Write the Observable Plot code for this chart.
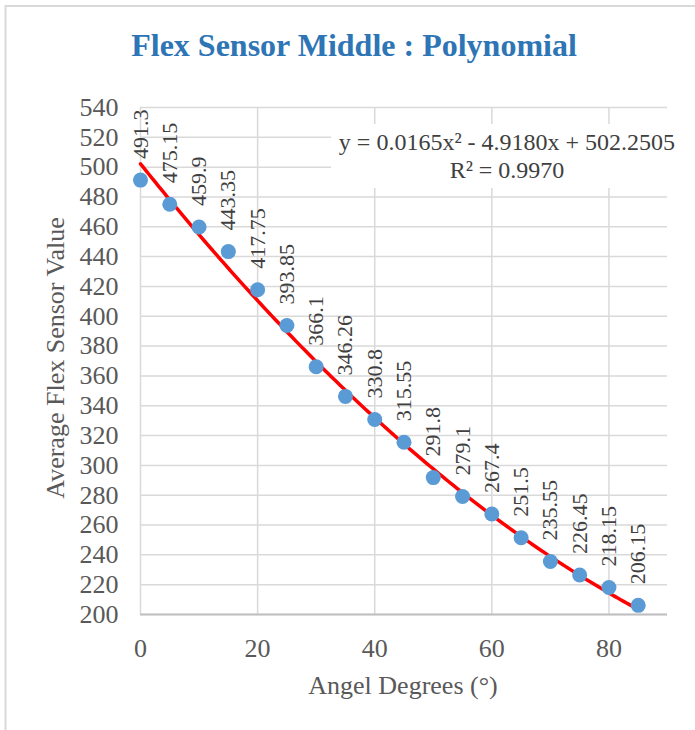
<!DOCTYPE html>
<html>
<head>
<meta charset="utf-8">
<script src="https://cdn.jsdelivr.net/npm/d3@7"></script>
<script src="https://cdn.jsdelivr.net/npm/@observablehq/plot@0.6"></script>
<style>
  html, body { margin: 0; padding: 0; background: white; }
</style>
</head>
<body>
<div id="chart"></div>
<script>
// ---- data ----
const angles = [0, 5, 10, 15, 20, 25, 30, 35, 40, 45, 50, 55, 60, 65, 70, 75, 80, 85];
const values = [491.3, 475.15, 459.9, 443.35, 417.75, 393.85, 366.1, 346.26, 330.8, 315.55, 291.8, 279.1, 267.4, 251.5, 235.55, 226.45, 218.15, 206.15];
const yTicks = [200, 220, 240, 260, 280, 300, 320, 340, 360, 380, 400, 420, 440, 460, 480, 500, 520, 540];
const xTicks = [0, 20, 40, 60, 80];
// polynomial trendline coefficients (c0, c1, c2) as printed on the chart
const trendCoeffs = [502.2505, -4.9180, 0.0165];
const equationText = "y = 0.0165x² - 4.9180x + 502.2505";
const r2Text = "R² = 0.9970";
const titleText = "Flex Sensor Middle : Polynomial";
const xLabel = "Angel Degrees (°)";
const yLabel = "Average Flex Sensor Value";

const points = angles.map((a, i) => ({x: a, y: values[i]}));
const trend = d3.range(0, 85.001, 0.5).map(x => ({x, y: trendCoeffs[0] + trendCoeffs[1] * x + trendCoeffs[2] * x * x}));

const serif = "'Liberation Serif', 'Times New Roman', Times, serif";

const chart = Plot.plot({
  width: 695,
  height: 730,
  marginLeft: 140,
  marginRight: 28,
  marginTop: 107,
  marginBottom: 116,
  x: {domain: [0, 90]},
  y: {domain: [200, 540]},
  style: {fontFamily: serif, background: "white", color: "#595959", overflow: "visible"},
  marks: [
    Plot.gridY({ticks: yTicks, stroke: "#D9D9D9", strokeOpacity: 1, strokeWidth: 1.5}),
    Plot.gridX({ticks: xTicks, stroke: "#D9D9D9", strokeOpacity: 1, strokeWidth: 1.5}),
    Plot.ruleY([200], {stroke: "#BFBFBF", strokeWidth: 2}),
    Plot.axisY({ticks: yTicks, tickSize: 0, tickPadding: 22, fontSize: 26, label: null}),
    Plot.axisX({ticks: xTicks, tickSize: 0, tickPadding: 24, fontSize: 26, label: null}),
    Plot.line(trend, {x: "x", y: "y", stroke: "#FF0000", strokeWidth: 3.5}),
    Plot.dot(points, {x: "x", y: "y", r: 7.5, fill: "#5B9BD5", stroke: "none"}),
    Plot.text(points, {x: "x", y: "y", text: d => String(d.y), rotate: -90, textAnchor: "start", lineAnchor: "middle", dy: -21, fontSize: 22, fill: "#404040", ariaLabel: "value-labels"})
  ]
});

document.getElementById("chart").appendChild(chart);

const svg = d3.select(chart);

// outer chart-area border
svg.insert("rect", ":first-child")
  .attr("x", 5.5).attr("y", 6).attr("width", 720).attr("height", 760)
  .attr("fill", "none").attr("stroke", "#D9D9D9").attr("stroke-width", 2);

// white boxes behind the data labels
svg.selectAll("g[aria-label='value-labels'] text").each(function() {
  const b = this.getBBox();
  const padAlong = 4, padAcross = 2;
  d3.select(this.parentNode).insert("rect", () => this)
    .attr("x", b.x - padAlong).attr("y", b.y - padAcross)
    .attr("width", b.width + 2 * padAlong).attr("height", b.height + 2 * padAcross)
    .attr("transform", this.getAttribute("transform"))
    .attr("fill", "white");
});

// title
svg.append("text")
  .attr("x", 354).attr("y", 56)
  .attr("text-anchor", "middle")
  .attr("font-family", serif).attr("font-weight", "bold").attr("font-size", 32)
  .attr("fill", "#2E75B6")
  .text(titleText);

// axis titles
svg.append("text")
  .attr("transform", "translate(64,358) rotate(-90)")
  .attr("text-anchor", "middle")
  .attr("font-family", serif).attr("font-size", 26).attr("fill", "#595959")
  .text(yLabel);

svg.append("text")
  .attr("x", 403).attr("y", 694)
  .attr("text-anchor", "middle")
  .attr("font-family", serif).attr("font-size", 26).attr("fill", "#595959")
  .text(xLabel);

// trendline equation label with white box
svg.append("rect")
  .attr("x", 331).attr("y", 124).attr("width", 352).attr("height", 64)
  .attr("fill", "white");
svg.append("text")
  .attr("x", 507).attr("y", 150)
  .attr("text-anchor", "middle")
  .attr("font-family", serif).attr("font-size", 24).attr("fill", "#404040")
  .text(equationText);
svg.append("text")
  .attr("x", 507).attr("y", 178)
  .attr("text-anchor", "middle")
  .attr("font-family", serif).attr("font-size", 24).attr("fill", "#404040")
  .text(r2Text);
</script>
</body>
</html>
